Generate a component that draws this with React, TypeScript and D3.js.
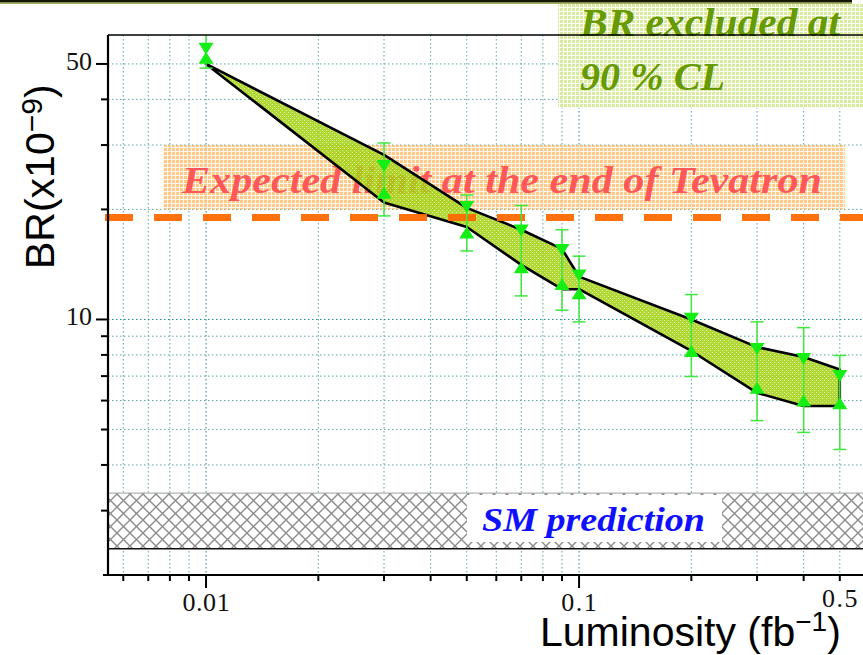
import React from "react";
import * as d3 from "d3";

// Integrated luminosity of each measurement (fb^-1)
const luminosity = [0.01, 0.03, 0.05, 0.07, 0.09, 0.1, 0.2, 0.3, 0.4, 0.5];
// Edges of the excluded-BR band (x10^-9)
const bandUpper = [50, 28.2, 20.2, 17.6, 15.6, 13.1, 10.0, 8.4, 7.9, 7.3];
const bandLower = [50, 20.9, 17.9, 14.1, 12.1, 12.1, 8.2, 6.3, 5.8, 5.8];
// Limit markers (down / up triangles) and their error bars
const limitHigh = [55, 26.3, 20.3, 17.5, 15.5, 13.2, 10.05, 8.3, 7.8, 7.0];
const limitLow = [52, 22.2, 17.3, 13.9, 12.5, 11.8, 8.2, 6.5, 6.0, 5.9];
const errTop = [62, 30.4, 21.9, 20.5, 17.6, 14.9, 11.7, 9.85, 9.5, 7.97];
const errBottom = [48.7, 19.2, 15.4, 11.6, 10.6, 9.85, 6.98, 5.29, 4.91, 4.41];

// Reference levels
const expectedLimit = 19;
const expectedBoxRange = [20, 30];
const expectedBoxLumi = [0.00767, 0.516];
const smRange = [2.36, 3.35];

// Axis ticks
const xMajorTicks = [0.01, 0.1];
const xLabelValues = [0.01, 0.1, 0.5];
const xLabelTexts = ["0.01", "0.1", "0.5"];
const xMinorTicks = [0.006, 0.007, 0.008, 0.009, 0.02, 0.03, 0.04, 0.05, 0.06, 0.07, 0.08, 0.09, 0.2, 0.3, 0.4, 0.5];
const yMajorTicks = [50, 10];
const yLabelTexts = ["50", "10"];
const yMinorTicks = [40, 30, 20, 9, 8, 7, 6, 5, 4, 3];

const W = 863;
const H = 655;
const left = 108;
const right = 863;
const top = 35;
const bottom = 575;

const x = d3.scaleLog().domain([0.00546, 0.577]).range([left, right]);
const y = d3.scaleLog().domain([2, 60]).range([bottom, top]);

const serif = "'Liberation Serif', 'Times New Roman', serif";
const sans = "'Liberation Sans', Arial, sans-serif";

export default function App() {
  const bandPts: [number, number][] = [
    ...luminosity.map((l, i) => [x(l), y(bandUpper[i])] as [number, number]),
    ...luminosity
      .map((l, i) => [x(l), y(bandLower[i])] as [number, number])
      .reverse(),
  ];
  const bandPath = d3.line()(bandPts) + "Z";

  const tri = (cx: number, cy: number, down: boolean) => {
    const w = 7.5;
    const h = 6;
    return down
      ? `M${cx - w},${cy - h}L${cx + w},${cy - h}L${cx},${cy + h}Z`
      : `M${cx - w},${cy + h}L${cx + w},${cy + h}L${cx},${cy - h}Z`;
  };

  const allX = [...xMajorTicks, ...xMinorTicks];
  const allY = [...yMajorTicks, ...yMinorTicks];

  return (
    <svg
      width={W}
      height={H}
      style={{ position: "absolute", left: 0, top: 0, background: "#fff" }}
    >
      <defs>
        <clipPath id="plotClip">
          <rect x={left} y={top} width={right - left} height={bottom - top} />
        </clipPath>
        <pattern id="bandFill" width={4} height={4} patternUnits="userSpaceOnUse">
          <rect width={4} height={4} fill="#a4d214" />
          <rect x={0} y={0} width={1} height={1} fill="#ffffff" opacity={0.5} />
          <rect x={2} y={2} width={1} height={1} fill="#ffffff" opacity={0.5} />
        </pattern>
        <pattern id="orangeFill" width={4} height={4} patternUnits="userSpaceOnUse">
          <rect width={4} height={4} fill="#ffb85c" />
          <rect x={3} y={0} width={1} height={4} fill="#ffffff" opacity={0.85} />
          <rect x={0} y={3} width={4} height={1} fill="#ffffff" opacity={0.85} />
        </pattern>
        <pattern id="greenFill" width={4} height={4} patternUnits="userSpaceOnUse">
          <rect width={4} height={4} fill="#d2e890" />
          <rect x={3} y={0} width={1} height={4} fill="#ffffff" opacity={0.9} />
          <rect x={0} y={3} width={4} height={1} fill="#ffffff" opacity={0.9} />
        </pattern>
        <pattern id="crossHatch" width={13} height={13} patternUnits="userSpaceOnUse">
          <rect width={13} height={13} fill="#ffffff" />
          <path d="M0,0L13,13M13,0L0,13" stroke="#8c8c8c" strokeWidth={1.4} />
        </pattern>
      </defs>

      {/* frame at the very top */}
      <rect x={0} y={0} width={852} height={2.5} fill="#151800" />
      <line x1={0} x2={852} y1={3.2} y2={3.2} stroke="#7d8c12" strokeWidth={1} />

      {/* grid */}
      <g>
        {allX.map((v) => (
          <line
            key={"gx" + v}
            x1={x(v)}
            x2={x(v)}
            y1={top}
            y2={bottom}
            stroke={xMajorTicks.includes(v) ? "#1a8a8a" : "#5aa5a8"}
            strokeWidth={1}
            strokeDasharray="1.5,2.5"
          />
        ))}
        {allY.map((v) => (
          <line
            key={"gy" + v}
            x1={left}
            x2={right}
            y1={y(v)}
            y2={y(v)}
            stroke={v === 10 ? "#1a8a8a" : "#5aa5a8"}
            strokeWidth={1}
            strokeDasharray="1.5,2.5"
          />
        ))}
      </g>

      {/* SM prediction */}
      <rect
        x={left}
        y={y(smRange[1])}
        width={right - left}
        height={y(smRange[0]) - y(smRange[1])}
        fill="url(#crossHatch)"
      />
      <line x1={left} x2={right} y1={y(smRange[1])} y2={y(smRange[1])} stroke="#a0a0a0" strokeWidth={1} />
      <line x1={left} x2={right} y1={y(smRange[0])} y2={y(smRange[0])} stroke="#111" strokeWidth={1.6} />
      <rect x={467} y={495} width={255} height={47} fill="#ffffff" />
      <text
        x={482}
        y={531}
        fontFamily={serif}
        fontStyle="italic"
        fontWeight="bold"
        fontSize={34}
        fill="#1010ff"
        textLength={223}
        lengthAdjust="spacingAndGlyphs"
      >
        SM prediction
      </text>

      {/* expected limit annotation */}
      <rect
        x={x(expectedBoxLumi[0])}
        y={y(expectedBoxRange[1])}
        width={x(expectedBoxLumi[1]) - x(expectedBoxLumi[0])}
        height={y(expectedBoxRange[0]) - y(expectedBoxRange[1])}
        fill="url(#orangeFill)"
        opacity={0.75}
      />
      <text
        x={182}
        y={193}
        fontFamily={serif}
        fontStyle="italic"
        fontWeight="bold"
        fontSize={38}
        fill="#ff5858"
        textLength={640}
        lengthAdjust="spacingAndGlyphs"
      >
        Expected limit at the end of Tevatron
      </text>

      {/* excluded band */}
      <g clipPath="url(#plotClip)">
        <path d={bandPath} fill="url(#bandFill)" opacity={0.85} />
        <path d={bandPath} fill="none" stroke="#000" strokeWidth={2.6} strokeLinejoin="round" />
      </g>

      {/* expected limit line */}
      <line
        x1={105}
        x2={W}
        y1={y(expectedLimit)}
        y2={y(expectedLimit)}
        stroke="#ff6a00"
        strokeWidth={7}
        strokeDasharray="28,21"
        opacity={0.95}
      />

      {/* error bars and markers */}
      <g clipPath="url(#plotClip)">
        {luminosity.map((l, i) => {
          const cx = x(l);
          const t = y(errTop[i]);
          const b = y(errBottom[i]);
          return (
            <g key={"e" + l} stroke="#3ee83e" strokeWidth={1.5}>
              <line x1={cx} x2={cx} y1={t} y2={b} />
              <line x1={cx - 6.5} x2={cx + 6.5} y1={t} y2={t} />
              <line x1={cx - 6.5} x2={cx + 6.5} y1={b} y2={b} />
            </g>
          );
        })}
        {luminosity.map((l, i) => (
          <g key={"m" + l} fill="#14ee14">
            <path d={tri(x(l), y(limitHigh[i]), true)} />
            <path d={tri(x(l), y(limitLow[i]), false)} />
          </g>
        ))}
      </g>

      {/* BR excluded annotation */}
      <rect x={558} y={4} width={W - 558} height={104} fill="url(#greenFill)" opacity={0.85} />
      <text
        x={580}
        y={36}
        fontFamily={serif}
        fontStyle="italic"
        fontWeight="bold"
        fontSize={40}
        fill="#669a00"
        textLength={260}
        lengthAdjust="spacingAndGlyphs"
      >
        BR excluded at
      </text>
      <text
        x={580}
        y={90}
        fontFamily={serif}
        fontStyle="italic"
        fontWeight="bold"
        fontSize={40}
        fill="#669a00"
        textLength={145}
        lengthAdjust="spacingAndGlyphs"
      >
        90 % CL
      </text>

      {/* axes */}
      <line x1={left} x2={right} y1={top} y2={top} stroke="#000" strokeWidth={1.6} />
      <line x1={left} x2={left} y1={top} y2={bottom + 1} stroke="#000" strokeWidth={2.2} />
      <line x1={103} x2={right} y1={bottom} y2={bottom} stroke="#000" strokeWidth={2.2} />

      {xMajorTicks.map((v) => (
        <line key={"xM" + v} x1={x(v)} x2={x(v)} y1={bottom} y2={bottom + 13} stroke="#000" strokeWidth={2} />
      ))}
      {xMinorTicks.map((v) => (
        <line key={"xm" + v} x1={x(v)} x2={x(v)} y1={bottom} y2={bottom + 6} stroke="#000" strokeWidth={2} />
      ))}
      {xLabelValues.map((v, i) => (
        <text
          key={"xl" + v}
          x={x(v)}
          y={v === 0.5 ? 607 : 611}
          textAnchor="middle"
          fontFamily={serif}
          fontSize={26}
          fill="#111"
          textLength={xLabelTexts[i].length * 11.8}
          lengthAdjust="spacing"
        >
          {xLabelTexts[i]}
        </text>
      ))}

      {yMajorTicks.map((v) => (
        <line key={"yM" + v} x1={left - 12} x2={left} y1={y(v)} y2={y(v)} stroke="#000" strokeWidth={2} />
      ))}
      {yMinorTicks.map((v) => (
        <line key={"ym" + v} x1={left - 7} x2={left} y1={y(v)} y2={y(v)} stroke="#000" strokeWidth={2} />
      ))}
      {yMajorTicks.map((v, i) => (
        <text
          key={"yl" + v}
          x={92}
          y={y(v) + 6}
          textAnchor="end"
          fontFamily={serif}
          fontSize={26}
          fill="#111"
        >
          {yLabelTexts[i]}
        </text>
      ))}

      {/* axis titles */}
      <text
        transform="translate(54,269) rotate(-90)"
        fontFamily={sans}
        fontSize={41}
        fill="#000"
      >
        BR(x10
        <tspan fontSize={30} dy={-12}>−9</tspan>
        <tspan dy={12}>)</tspan>
      </text>
      <text x={540} y={646} fontFamily={sans} fontSize={41} fill="#000">
        Luminosity (fb
        <tspan fontSize={28} dy={-15}>−1</tspan>
        <tspan dy={15}>)</tspan>
      </text>
    </svg>
  );
}
